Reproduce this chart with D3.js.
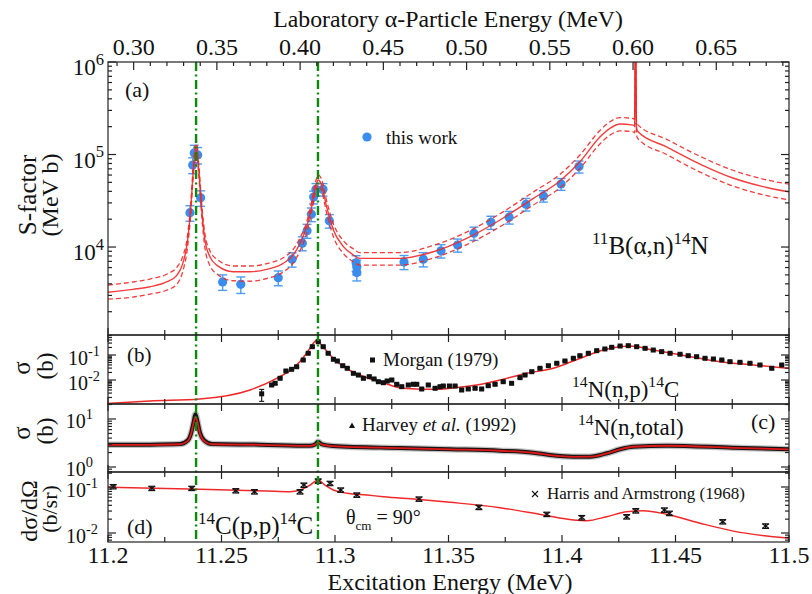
<!DOCTYPE html>
<html><head><meta charset="utf-8">
<script src="https://cdn.jsdelivr.net/npm/d3@7"></script>
<style>
body{margin:0;background:#fff}
svg{display:block}
text{font-family:"Liberation Serif","Times New Roman",serif;fill:#111}
</style>
</head><body>
<svg id="chart" width="812" height="594"></svg>
<script>
// ---------------- DATA ----------------
const exDomain = [11.2, 11.5];
const bottomTickLabels = ["11.2","11.25","11.3","11.35","11.4","11.45","11.5"];
const resonanceEx = [11.2388, 11.2925];

// (a) 11B(a,n)14N  -- this work
const thisEx = [11.2361,11.2373,11.2380,11.2395,11.2408,11.2505,11.2585,11.2750,11.2811,11.2856,11.2877,11.2896,11.2906,11.2916,11.2947,11.2975,11.3093,11.3096,11.3096,11.3304,11.3389,11.3467,11.3540,11.3612,11.3687,11.3767,11.3841,11.3918,11.3996,11.4075];
const thisS  = [2.35e4,7.7e4,1.04e5,9.9e4,3.4e4,4.2e3,3.95e3,4.66e3,7.36e3,1.10e4,1.50e4,2.26e4,3.47e4,4.2e4,4.2e4,1.92e4,6.76e3,6.1e3,5.3e3,6.9e3,7.4e3,9.1e3,1.05e4,1.41e4,1.85e4,2.1e4,2.9e4,3.56e4,4.8e4,7.4e4];
const thisErr = [4.5e3,1.5e4,2.2e4,2.0e4,6.5e3,8.0e2,8.0e2,8.5e2,1.3e3,1.9e3,2.6e3,3.8e3,5.5e3,6.5e3,6.5e3,3.2e3,1.3e3,1.1e3,1.0e3,1.2e3,1.3e3,1.5e3,1.7e3,2.3e3,3.0e3,3.3e3,4.5e3,5.0e3,7.0e3,1.1e4];

// (a) R-matrix fit: central, upper and lower bands
const fitEx = [11.200,11.211,11.2185,11.226,11.2304,11.233,11.2349,11.2364,11.2376,11.2388,11.2400,11.2413,11.2427,11.2449,11.2479,11.2552,11.2626,11.2699,11.2772,11.2816,11.2846,11.2875,11.2897,11.2916,11.2926,11.2941,11.2963,11.2993,11.3037,11.3081,11.3110,11.3286,11.3433,11.3580,11.3727,11.3874,11.3991,11.4079,11.4167,11.4211,11.4256,11.4313,11.4320,11.4324,11.4328,11.4335,11.4461,11.4608,11.4753,11.4902,11.500];
const fitS = [3.24e3,3.49e3,3.72e3,4.22e3,4.98e3,6.71e3,1.10e4,2.51e4,6.79e4,1.27e5,6.79e4,2.51e4,1.19e4,7.85e3,6.38e3,5.41e3,5.41e3,5.74e3,6.67e3,8.20e3,1.10e4,1.66e4,2.73e4,4.68e4,5.30e4,4.68e4,2.73e4,1.53e4,1.01e4,8.20e3,7.55e3,7.55e3,8.89e3,1.24e4,1.96e4,3.36e4,5.18e4,8.36e4,1.55e5,1.92e5,2.14e5,2.08e5,2.04e5,3.2e6,1.95e5,1.76e5,1.21e5,7.89e4,5.57e4,4.40e4,3.94e4];
const fitUpper = [3.88e3,4.19e3,4.51e3,5.11e3,6.08e3,8.00e3,1.26e4,2.82e4,7.59e4,1.45e5,7.76e4,2.88e4,1.38e4,9.12e3,7.41e3,6.24e3,6.24e3,6.61e3,7.67e3,9.44e3,1.26e4,1.86e4,3.09e4,5.25e4,6.03e4,5.37e4,3.16e4,1.78e4,1.17e4,9.55e3,8.71e3,8.71e3,1.04e4,1.45e4,2.29e4,3.94e4,6.10e4,9.89e4,1.82e5,2.26e5,2.51e5,2.45e5,2.40e5,3.2e6,2.29e5,2.09e5,1.46e5,9.55e4,6.76e4,5.31e4,4.79e4];
const fitLower = [2.74e3,2.88e3,3.10e3,3.43e3,3.98e3,5.51e3,9.33e3,2.19e4,6.03e4,1.12e5,5.89e4,2.14e4,9.77e3,6.31e3,5.13e3,4.32e3,4.27e3,4.57e3,5.37e3,6.76e3,9.12e3,1.41e4,2.40e4,4.07e4,4.68e4,4.07e4,2.34e4,1.29e4,8.51e3,6.92e3,6.38e3,6.38e3,7.59e3,1.06e4,1.66e4,2.85e4,4.37e4,7.08e4,1.30e5,1.62e5,1.80e5,1.76e5,1.72e5,3.2e6,1.64e5,1.48e5,1.00e5,6.46e4,4.57e4,3.59e4,3.24e4];

// (b) 14N(n,p)14C -- Morgan (1979)
const morganEx = [11.2677,11.2721,11.2736,11.2758,11.2784,11.2809,11.2831,11.2860,11.2882,11.2900,11.2926,11.2948,11.2970,11.2993,11.3010,11.3034,11.3054,11.3081,11.3103,11.3125,11.3151,11.3172,11.3191,11.3213,11.3230,11.3250,11.3272,11.3294,11.3323,11.3345,11.3360,11.3382,11.3411,11.3441,11.3463,11.3477,11.3504,11.3529,11.3558,11.3587,11.3617,11.3646,11.3675,11.3705,11.3741,11.3778,11.3815,11.3837,11.3867,11.3903,11.3940,11.3977,11.4013,11.4050,11.4079,11.4116,11.4153,11.4189,11.4219,11.4256,11.4292,11.4329,11.4366,11.4402,11.4439,11.4476,11.4520,11.4556,11.4593,11.4630,11.4667,11.4704,11.4740,11.4784,11.4828,11.4872,11.4924,11.4968];
const morganSigma = [2.8e-3,6.31e-3,7.38e-3,1.17e-2,2.29e-2,2.68e-2,3.40e-2,6.31e-2,0.117,0.215,0.340,0.215,0.117,6.73e-2,5.75e-2,3.73e-2,2.94e-2,1.85e-2,1.58e-2,1.17e-2,1.36e-2,1.10e-2,8.55e-3,7.80e-3,9.12e-3,1.0e-2,6.73e-3,5.40e-3,6.31e-3,6.73e-3,6.73e-3,4.37e-3,6.31e-3,4.66e-3,5.40e-3,5.75e-3,5.75e-3,5.75e-3,3.98e-3,4.37e-3,4.66e-3,4.37e-3,5.92e-3,6.73e-3,8.55e-3,7.38e-3,1.24e-2,1.58e-2,2.15e-2,2.94e-2,3.73e-2,4.66e-2,5.75e-2,7.38e-2,9.38e-2,0.117,0.149,0.174,0.203,0.229,0.236,0.215,0.185,0.158,0.136,0.117,0.107,9.38e-2,8.55e-2,7.38e-2,6.92e-2,6.31e-2,5.40e-2,5.10e-2,4.66e-2,3.98e-2,2.94e-2,3.98e-2];
const morganErr = [1.4e-3,6e-4,7e-4,1.0e-3,1.8e-3,2e-3,2.5e-3,4.5e-3,8e-3,1.4e-2,2.2e-2,1.4e-2,8e-3,5e-3,4e-3,2.8e-3,2.2e-3,1.4e-3,1.2e-3,9e-4,1.0e-3,8e-4,7e-4,6e-4,7e-4,8e-4,6e-4,5e-4,6e-4,6e-4,6e-4,4e-4,6e-4,5e-4,5e-4,5e-4,5e-4,5e-4,4e-4,4e-4,4e-4,4e-4,5e-4,6e-4,7e-4,6e-4,1.0e-3,1.2e-3,1.6e-3,2.0e-3,2.6e-3,3.2e-3,4e-3,5e-3,6e-3,7.5e-3,9e-3,1.0e-2,1.2e-2,1.3e-2,1.3e-2,1.2e-2,1.1e-2,9e-3,8e-3,7e-3,6.5e-3,6e-3,5.5e-3,5e-3,4.5e-3,4e-3,3.5e-3,3.3e-3,3e-3,2.6e-3,2.2e-3,2.6e-3];
const npFitEx = [11.2000,11.2185,11.2405,11.2626,11.2743,11.2816,11.2875,11.2904,11.2919,11.2941,11.2978,11.3037,11.3110,11.3213,11.3286,11.3360,11.3433,11.3507,11.3624,11.3741,11.3844,11.3962,11.4035,11.4109,11.4182,11.4226,11.4300,11.4402,11.4549,11.4696,11.4843,11.5000];
const npFitSigma = [1.15e-3,1.45e-3,1.74e-3,4.0e-3,1.17e-2,2.94e-2,0.117,0.294,0.398,0.251,0.100,3.40e-2,1.58e-2,7.80e-3,4.92e-3,4.37e-3,4.25e-3,4.66e-3,6.31e-3,1.07e-2,1.85e-2,2.94e-2,5.10e-2,9.38e-2,0.158,0.196,0.229,0.158,9.12e-2,5.40e-2,3.98e-2,2.94e-2];

// (c) 14N(n,total) -- Harvey et al. (1992)
const harveyEx = [11.2000,11.2185,11.2317,11.2352,11.2366,11.2377,11.2385,11.2394,11.2405,11.2423,11.2458,11.2670,11.2890,11.2912,11.2925,11.2943,11.2991,11.3286,11.3507,11.3727,11.3874,11.3947,11.4048,11.4123,11.4198,11.4256,11.4313,11.4463,11.4753,11.5000];
const harveySigma = [2.9,2.92,3.0,3.6,5.0,8.5,12.5,9.0,5.2,3.6,3.0,2.92,2.76,2.95,3.35,2.95,2.74,2.48,2.34,2.19,1.99,1.78,1.64,1.64,1.93,2.34,2.65,2.78,2.52,2.34];
const ntotFitEx = [11.2000,11.2185,11.2317,11.2352,11.2366,11.2377,11.2385,11.2394,11.2405,11.2423,11.2458,11.2670,11.2890,11.2912,11.2925,11.2943,11.2991,11.3286,11.3507,11.3727,11.3874,11.3947,11.4048,11.4123,11.4198,11.4256,11.4313,11.4463,11.4753,11.5000];
const ntotFitSigma = [2.88,2.9,2.98,3.5,4.9,8.2,11.0,8.6,5.0,3.5,2.98,2.9,2.75,2.92,3.25,2.93,2.73,2.47,2.33,2.18,1.98,1.77,1.63,1.64,1.92,2.33,2.64,2.77,2.51,2.33];

// (d) 14C(p,p)14C, theta_cm = 90 deg -- Harris and Armstrong (1968)
const harrisEx = [11.2023,11.2193,11.2369,11.2563,11.2645,11.2846,11.2863,11.2926,11.2978,11.3025,11.3096,11.3370,11.3634,11.3933,11.4087,11.4285,11.4325,11.4451,11.4473,11.4708,11.4897];
const harrisSigma = [0.102,0.0937,0.0937,0.0831,0.0790,0.0790,0.110,0.135,0.120,0.0861,0.0670,0.0548,0.0362,0.0255,0.0216,0.0226,0.0305,0.0316,0.0268,0.0176,0.0142];
const harrisErr = [0.011,0.010,0.010,0.009,0.0087,0.0087,0.012,0.015,0.013,0.0095,0.0074,0.006,0.004,0.0028,0.0024,0.0025,0.0034,0.0035,0.003,0.0019,0.0016];
const ppFitEx = [11.2000,11.2405,11.2699,11.2802,11.2846,11.2890,11.2926,11.2956,11.2993,11.3053,11.3141,11.3213,11.3360,11.3507,11.3727,11.3918,11.4050,11.4109,11.4197,11.4285,11.4358,11.4461,11.4608,11.4755,11.4902,11.5000];
const ppFitSigma = [0.0985,0.0891,0.0818,0.0790,0.0861,0.110,0.142,0.110,0.0861,0.0730,0.0670,0.0615,0.0541,0.0465,0.0355,0.0246,0.0192,0.0185,0.0226,0.0290,0.0305,0.0255,0.0163,0.0110,0.0086,0.0077];

// ---------------- LAYOUT ----------------
const X0 = 108, X1 = 789;
const Q = 10.9913, massFactor = 11/15;   // Ex = Q + E_lab * 11/15
const svg = d3.select("#chart");
const x = d3.scaleLinear().domain(exDomain).range([X0, X1]);
const xLab = d3.scaleLinear().domain(exDomain.map(e => (e - Q) / massFactor)).range([X0, X1]);

const panels = {
  a: {top: 62,  bottom: 335, domain: [1.12e3, 1e6],      exps: ["4","5","6"],  labX: 104, labSize: 23, labDy: 13},
  b: {top: 335, bottom: 404, domain: [1.096e-3, 0.631],  exps: ["-2","-1"],    labX: 100, labSize: 20, labDy: 10},
  c: {top: 404, bottom: 472, domain: [0.787, 20.5],      exps: ["0","1"],      labX: 93,  labSize: 20, labDy: 9},
  d: {top: 472, bottom: 542, domain: [6.37e-3, 0.212],   exps: ["-2","-1"],    labX: 98,  labSize: 20, labDy: 10}
};
Object.entries(panels).forEach(([k, p]) => {
  p.y = d3.scaleLog().domain(p.domain).range([p.bottom, p.top]);
  svg.append("clipPath").attr("id", "clip-" + k)
    .append("rect").attr("x", X0).attr("y", p.top).attr("width", X1 - X0).attr("height", p.bottom - p.top);
  p.g = svg.append("g").attr("clip-path", `url(#clip-${k})`);
});

const RED = "#f02828";
const lineGen = (y) => d3.line().x(d => x(d[0])).y(d => y(d[1])).curve(d3.curveMonotoneX);
const zip = (a, b) => a.map((v, i) => [v, b[i]]);

// ---- panel (a)
{
  const p = panels.a, g = p.g;
  const pts = thisEx.map((e, i) => ({e, s: thisS[i], err: thisErr[i]}));
  const eb = g.append("g").attr("stroke", "#4c9cf2").attr("stroke-width", 1.4);
  pts.forEach(d => {
    const y1 = p.y(d.s + d.err), y2 = p.y(Math.max(d.s - d.err, 1)), px = x(d.e);
    eb.append("line").attr("x1", px).attr("x2", px).attr("y1", y1).attr("y2", y2);
    eb.append("line").attr("x1", px - 4.5).attr("x2", px + 4.5).attr("y1", y1).attr("y2", y1);
    eb.append("line").attr("x1", px - 4.5).attr("x2", px + 4.5).attr("y1", y2).attr("y2", y2);
  });
  g.append("g").selectAll("circle").data(pts).join("circle")
    .attr("cx", d => x(d.e)).attr("cy", d => p.y(d.s)).attr("r", 4.6).attr("fill", "#3a8dec");
  const lg = lineGen(p.y);
  g.append("path").attr("d", lg(zip(fitEx, fitUpper))).attr("fill", "none").attr("stroke", RED)
    .attr("stroke-width", 1.3).attr("stroke-dasharray", "5,3").attr("opacity", 0.9);
  g.append("path").attr("d", lg(zip(fitEx, fitLower))).attr("fill", "none").attr("stroke", RED)
    .attr("stroke-width", 1.3).attr("stroke-dasharray", "5,3").attr("opacity", 0.9);
  g.append("path").attr("d", lg(zip(fitEx, fitS))).attr("fill", "none").attr("stroke", RED)
    .attr("stroke-width", 1.4).attr("opacity", 0.9);
}

// ---- panel (b)
{
  const p = panels.b, g = p.g;
  g.append("path").attr("d", lineGen(p.y)(zip(npFitEx, npFitSigma))).attr("fill", "none")
    .attr("stroke", RED).attr("stroke-width", 1.5);
  const eb = g.append("g").attr("stroke", "#111").attr("stroke-width", 1.1);
  morganEx.forEach((e, i) => {
    const s = morganSigma[i], er = morganErr[i], px = x(e);
    const y1 = p.y(s + er), y2 = p.y(s - er);
    eb.append("line").attr("x1", px).attr("x2", px).attr("y1", y1).attr("y2", y2);
    eb.append("line").attr("x1", px - 2.5).attr("x2", px + 2.5).attr("y1", y1).attr("y2", y1);
    eb.append("line").attr("x1", px - 2.5).attr("x2", px + 2.5).attr("y1", y2).attr("y2", y2);
  });
  g.append("g").selectAll("rect").data(morganEx).join("rect")
    .attr("x", (e) => x(e) - 2.5).attr("y", (e, i) => p.y(morganSigma[i]) - 2.5)
    .attr("width", 5).attr("height", 5).attr("fill", "#111");
}

// ---- panel (c)
{
  const p = panels.c, g = p.g;
  const hd = zip(harveyEx, harveySigma);
  const lg = lineGen(p.y);
  g.append("path").attr("d", lg(hd)).attr("fill", "none").attr("stroke", "#777").attr("stroke-width", 6.5).attr("opacity", 0.45);
  g.append("path").attr("d", lg(hd)).attr("fill", "none").attr("stroke", "#151515").attr("stroke-width", 4);
  g.append("path").attr("d", lg(zip(ntotFitEx, ntotFitSigma))).attr("fill", "none").attr("stroke", "#e01818").attr("stroke-width", 1.8);
}

// ---- panel (d)
{
  const p = panels.d, g = p.g;
  g.append("path").attr("d", lineGen(p.y)(zip(ppFitEx, ppFitSigma))).attr("fill", "none")
    .attr("stroke", RED).attr("stroke-width", 1.4);
  const eb = g.append("g").attr("stroke", "#111").attr("stroke-width", 1.2);
  harrisEx.forEach((e, i) => {
    const s = harrisSigma[i], er = harrisErr[i], px = x(e), py = p.y(s);
    const y1 = p.y(s + er), y2 = p.y(s - er);
    eb.append("line").attr("x1", px).attr("x2", px).attr("y1", y1).attr("y2", y2);
    eb.append("line").attr("x1", px - 3.5).attr("x2", px + 3.5).attr("y1", y1).attr("y2", y1);
    eb.append("line").attr("x1", px - 3.5).attr("x2", px + 3.5).attr("y1", y2).attr("y2", y2);
    eb.append("line").attr("x1", px - 3).attr("x2", px + 3).attr("y1", py - 2).attr("y2", py + 2);
    eb.append("line").attr("x1", px - 3).attr("x2", px + 3).attr("y1", py + 2).attr("y2", py - 2);
  });
}

// ---- green resonance lines
svg.append("g").selectAll("line").data(resonanceEx).join("line")
  .attr("x1", d => x(d)).attr("x2", d => x(d))
  .attr("y1", panels.a.top).attr("y2", panels.d.bottom)
  .attr("stroke", "#0c8a0c").attr("stroke-width", 2.4).attr("stroke-dasharray", "9,3.5,2,3.5");

// ---- frames and ticks
const axG = svg.append("g").attr("stroke", "#222").attr("stroke-width", 1.2);
const minorEx = d3.range(exDomain[0], exDomain[1] + 1e-9, 0.025);
Object.values(panels).forEach(p => {
  axG.append("rect").attr("x", X0).attr("y", p.top).attr("width", X1 - X0).attr("height", p.bottom - p.top).attr("fill", "none");
  p.y.ticks().forEach(v => {
    const py = p.y(v);
    if (py < p.top - 0.5 || py > p.bottom + 0.5) return;
    const maj = Math.abs(Math.log10(v) - Math.round(Math.log10(v))) < 1e-9;
    const len = maj ? 8 : 4;
    axG.append("line").attr("x1", X0).attr("x2", X0 + len).attr("y1", py).attr("y2", py);
    axG.append("line").attr("x1", X1).attr("x2", X1 - len).attr("y1", py).attr("y2", py);
  });
  minorEx.forEach((e, i) => {
    const px = x(e), len = (i % 2 === 0) ? 7 : 5;
    axG.append("line").attr("x1", px).attr("x2", px).attr("y1", p.bottom).attr("y2", p.bottom - len);
    if (p !== panels.a) axG.append("line").attr("x1", px).attr("x2", px).attr("y1", p.top).attr("y2", p.top + len);
  });
  p.exps.forEach(ex => {
    const py = p.y(Math.pow(10, +ex));
    const t = svg.append("text").attr("x", p.labX).attr("y", py + p.labDy).attr("text-anchor", "end")
      .style("font-size", p.labSize + "px");
    t.append("tspan").text("10");
    t.append("tspan").attr("dy", -p.labSize * 0.45).style("font-size", (p.labSize * 0.72) + "px").text(ex);
  });
});
xLab.ticks(40).forEach(v => {
  const px = xLab(v);
  if (px < X0 || px > X1) return;
  const maj = Math.abs(v * 20 - Math.round(v * 20)) < 1e-6;
  axG.append("line").attr("x1", px).attr("x2", px).attr("y1", panels.a.top).attr("y2", panels.a.top + (maj ? 8 : 4));
});
svg.append("g").selectAll("text").data(xLab.ticks(8)).join("text")
  .attr("x", d => xLab(d)).attr("y", 55).attr("text-anchor", "middle").style("font-size", "24px")
  .text(d3.format(".2f"));
svg.append("g").selectAll("text").data(x.ticks(6)).join("text")
  .attr("x", d => x(d)).attr("y", 563).attr("text-anchor", "middle").style("font-size", "24px")
  .text((d, i) => bottomTickLabels[i]);

// ---- titles
svg.append("text").attr("x", 448).attr("y", 27).attr("text-anchor", "middle").style("font-size", "23.8px")
  .text("Laboratory α-Particle Energy (MeV)");
svg.append("text").attr("x", 450).attr("y", 590).attr("text-anchor", "middle").style("font-size", "24px")
  .text("Excitation Energy (MeV)");
function rot(xb, yc, txt, size) {
  return svg.append("text").attr("transform", `translate(${xb},${yc}) rotate(-90)`)
    .attr("text-anchor", "middle").style("font-size", size + "px").text(txt);
}
rot(36, 195, "S-factor", 25);
rot(58, 195, "(MeV b)", 24);
rot(30, 368, "σ", 25);
rot(53, 366, "(b)", 23);
rot(30, 433, "σ", 25);
rot(53, 431, "(b)", 23);
rot(37, 511, "dσ/dΩ", 24);
rot(57, 509, "(b/sr)", 22);

// ---- panel annotations
function txt(xp, yp, size) { return svg.append("text").attr("x", xp).attr("y", yp).style("font-size", size + "px"); }
function sup(t, s, size) { t.append("tspan").attr("dy", -size * 0.42).style("font-size", (size * 0.68) + "px").text(s); }
function base(t, s, size) { t.append("tspan").attr("dy", size * 0.42).text(s); }

txt(125, 97, 22).text("(a)");
svg.append("circle").attr("cx", 367).attr("cy", 137).attr("r", 4.6).attr("fill", "#3a8dec");
txt(386, 144, 19).text("this work");
{ const s = 25, t = txt(592, 254, s); t.append("tspan").attr("dy", -s*0.42).style("font-size", (s*0.68)+"px").text("11");
  base(t, "B(α,n)", s); sup(t, "14", s); base(t, "N", s); }

txt(127, 362, 21).text("(b)");
svg.append("rect").attr("x", 370).attr("y", 357.5).attr("width", 5).attr("height", 5).attr("fill", "#111");
txt(383, 366, 19).text("Morgan (1979)");
{ const s = 23, t = txt(572, 397, s); t.append("tspan").attr("dy", -s*0.42).style("font-size", (s*0.68)+"px").text("14");
  base(t, "N(n,p)", s); sup(t, "14", s); base(t, "C", s); }

svg.append("path").attr("d", "M349,428 L355,428 L352,422.5 Z").attr("fill", "#111");
{ const t = txt(362, 431, 19); t.append("tspan").text("Harvey ");
  t.append("tspan").style("font-style", "italic").text("et al.");
  t.append("tspan").text(" (1992)"); }
{ const s = 23, t = txt(578, 435, s); t.append("tspan").attr("dy", -s*0.42).style("font-size", (s*0.68)+"px").text("14");
  base(t, "N(n,total)", s); }
txt(751, 429, 22).text("(c)");

txt(127, 534, 22).text("(d)");
{ const s = 25, t = txt(198, 534, s); t.append("tspan").attr("dy", -s*0.42).style("font-size", (s*0.68)+"px").text("14");
  base(t, "C(p,p)", s); sup(t, "14", s); base(t, "C", s); }
{ const t = txt(346, 524, 20); t.append("tspan").text("θ");
  t.append("tspan").attr("dy", 6).style("font-size", "13px").text("cm");
  t.append("tspan").attr("dy", -6).text(" = 90°"); }
{ const g = svg.append("g").attr("stroke", "#111").attr("stroke-width", 1.1);
  g.append("line").attr("x1", 532).attr("x2", 538).attr("y1", 491).attr("y2", 497);
  g.append("line").attr("x1", 532).attr("x2", 538).attr("y1", 497).attr("y2", 491); }
txt(547, 499, 17).text("Harris and Armstrong (1968)");
</script>
</body></html>
